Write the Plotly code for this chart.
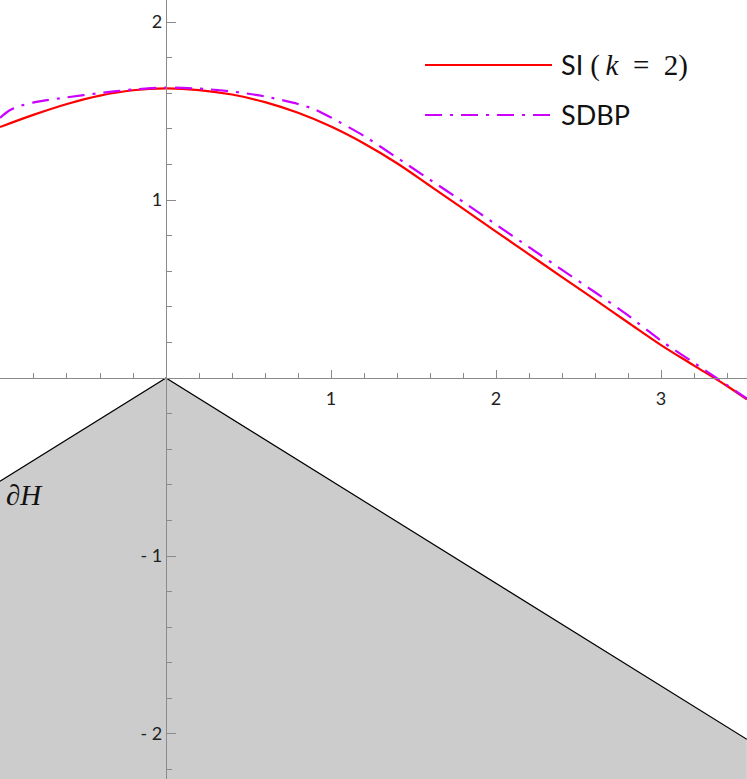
import plotly.graph_objects as go

# curve samples
x_si = [-1.006, -0.8, -0.6, -0.4, -0.2, 0.0, 0.2, 0.4, 0.6, 0.8, 1.0, 1.2, 1.4, 1.6,
        1.8, 2.0, 2.2, 2.4, 2.6, 2.8, 3.0, 3.2, 3.4, 3.52]
y_si = [1.41, 1.48, 1.54, 1.587, 1.617, 1.627, 1.618, 1.593, 1.55, 1.49, 1.413, 1.318,
        1.207, 1.08, 0.952, 0.823, 0.695, 0.567, 0.44, 0.312, 0.185, 0.07, -0.045, -0.12]

x_sdbp = [-1.006, -0.95, -0.9, -0.8, -0.6, -0.4, -0.2, 0.0, 0.2, 0.4, 0.6, 0.8, 0.9,
          1.0, 1.2, 1.4, 1.6, 1.8, 2.0, 2.2, 2.4, 2.6, 2.8, 3.0, 3.2, 3.4, 3.52]
y_sdbp = [1.462, 1.503, 1.524, 1.549, 1.577, 1.601, 1.621, 1.632, 1.626, 1.61, 1.582,
          1.54, 1.51, 1.464, 1.36, 1.238, 1.114, 0.99, 0.862, 0.735, 0.608, 0.482,
          0.352, 0.21, 0.085, -0.04, -0.115]

# boundary of H (grey region below it)
x_h = [-1.006, 0.0, 3.52]
y_h = [-0.58, 0.0, -2.03]

x_range = [-1.006, 3.521]
y_range = [-2.253, 2.124]

x_ticks = [1, 2, 3]
x_ticktext = ["1", "2", "3"]
y_ticks = [-2, -1, 1, 2]
y_ticktext = ["- 2", "- 1", "1", "2"]

SERIF = "'Liberation Serif', serif"
series_names = [
    f"SI <span style=\"font-family:{SERIF};font-size:29px\">(\u2009<i>k</i>\u2002=\u20022)</span>",
    "SDBP",
]

W, H = 747, 779
RED = "#ff0000"
MAG = "#cc00ff"
SDBP_DASH = "17px,8px,3px,8px"
AXIS_COL = "#8a8a8a"
SANS = "Lato, 'Open Sans', sans-serif"


def main():
    fig = go.Figure()

    # grey region H
    fig.add_trace(go.Scatter(
        x=x_h + [x_h[-1], x_h[0], x_h[0]],
        y=y_h + [y_range[0] - 0.1, y_range[0] - 0.1, y_h[0]],
        mode="lines", fill="toself", fillcolor="#cccccc",
        line=dict(color="rgba(0,0,0,0)", width=0), hoverinfo="skip",
    ))
    fig.add_trace(go.Scatter(x=x_h, y=y_h, mode="lines",
                             line=dict(color="black", width=1.2)))

    fig.add_trace(go.Scatter(x=x_si, y=y_si, mode="lines",
                             line=dict(color=RED, width=2.2, shape="spline", smoothing=1)))
    fig.add_trace(go.Scatter(x=x_sdbp, y=y_sdbp, mode="lines",
                             line=dict(color=MAG, width=2.2, dash=SDBP_DASH,
                                       shape="spline", smoothing=0.7)))

    # x axis crosses at y=0, y axis at x=0
    xpos = (0 - y_range[0]) / (y_range[1] - y_range[0])
    ypos = (0 - x_range[0]) / (x_range[1] - x_range[0])

    fig.update_xaxes(
        range=x_range, anchor="free", position=xpos, showgrid=False, zeroline=False,
        showline=True, linecolor=AXIS_COL, linewidth=1,
        tickmode="array", tickvals=x_ticks, ticktext=x_ticktext,
        ticks="inside", ticklen=8, tickcolor=AXIS_COL, tickwidth=1,
        minor=dict(dtick=0.2, tick0=0, ticks="inside", ticklen=5, tickcolor=AXIS_COL),
        tickfont=dict(family=SANS, size=18, color="#222"), ticklabelstandoff=4,
    )
    fig.update_yaxes(
        range=y_range, anchor="free", position=ypos, showgrid=False, zeroline=False,
        showline=True, linecolor=AXIS_COL, linewidth=1.3,
        tickmode="array", tickvals=y_ticks, ticktext=y_ticktext,
        ticks="inside", ticklen=9, tickcolor=AXIS_COL, tickwidth=1,
        minor=dict(dtick=0.2, tick0=0, ticks="inside", ticklen=5, tickcolor=AXIS_COL),
        tickfont=dict(family=SANS, size=18, color="#222"),
    )

    # legend drawn by hand (long line samples)
    leg_x0, leg_x1, txt_x = 425 / W, 552 / W, 559 / W
    leg_rows = [(1 - 65 / H, RED, "solid"), (1 - 115 / H, MAG, SDBP_DASH)]
    for (ly, col, dash), name in zip(leg_rows, series_names):
        fig.add_shape(type="line", xref="paper", yref="paper",
                      x0=leg_x0, x1=leg_x1, y0=ly, y1=ly,
                      line=dict(color=col, width=2.2, dash=dash))
        fig.add_annotation(xref="paper", yref="paper", x=txt_x, y=ly,
                           xanchor="left", yanchor="middle", showarrow=False,
                           text=name, font=dict(family=SANS, size=27, color="#111"))

    fig.add_annotation(x=-0.86, y=-0.655, text="<i>∂H</i>", showarrow=False,
                       font=dict(family=SERIF, size=29, color="#111"))

    fig.update_layout(
        width=W, height=H, margin=dict(l=0, r=0, t=0, b=0),
        plot_bgcolor="white", paper_bgcolor="white", showlegend=False,
    )
    fig.write_html("out.html", config={"displayModeBar": False}, post_script=(
        "document.body.style.margin='0';document.body.style.overflow='hidden';"))


if __name__ == "__main__":
    main()
